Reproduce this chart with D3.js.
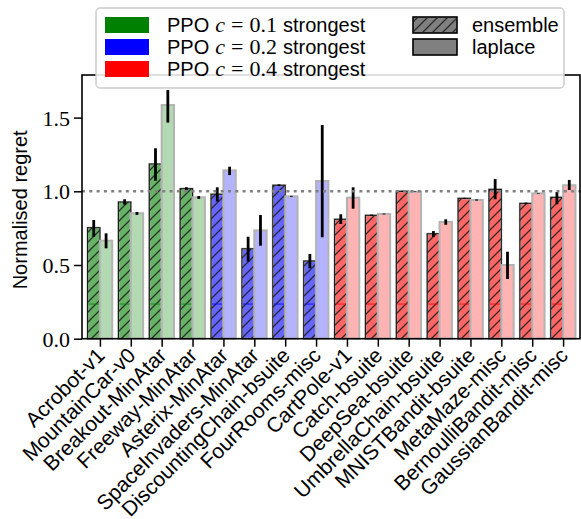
<!DOCTYPE html>
<html>
<head>
<meta charset="utf-8">
<script src="https://cdn.jsdelivr.net/npm/d3@7"></script>
<style>
  body { margin: 0; background: #fff; }
  text { fill: #000; }
  .sans { font-family: "Liberation Sans", Arial, sans-serif; }
  .serif { font-family: "Liberation Serif", "Times New Roman", serif; }
</style>
</head>
<body>
<script>
// environments, in plot order
var envs = ["Acrobot-v1", "MountainCar-v0", "Breakout-MinAtar", "Freeway-MinAtar",
    "Asterix-MinAtar", "SpaceInvaders-MinAtar", "DiscountingChain-bsuite", "FourRooms-misc",
    "CartPole-v1", "Catch-bsuite", "DeepSea-bsuite", "UmbrellaChain-bsuite",
    "MNISTBandit-bsuite", "MetaMaze-misc", "BernoulliBandit-misc", "GaussianBandit-misc"];
// which PPO c is strongest for each env (0 -> 0.1, 1 -> 0.2, 2 -> 0.4)
var strongest = [0, 0, 0, 0, 1, 1, 1, 1, 2, 2, 2, 2, 2, 2, 2, 2];

var ensembleMean = [0.753, 0.927, 1.185, 1.018, 0.980, 0.610, 1.041, 0.527,
    0.810, 0.837, 1.000, 0.712, 0.952, 1.013, 0.918, 0.959];
var ensembleLo = [0.692, 0.909, 1.072, 1.008, 0.930, 0.523, 1.035, 0.478,
    0.778, 0.833, 0.997, 0.690, 0.948, 0.946, 0.913, 0.912];
var ensembleHi = [0.805, 0.946, 1.292, 1.028, 1.027, 0.692, 1.047, 0.575,
    0.844, 0.842, 1.003, 0.730, 0.956, 1.083, 0.923, 0.995];

var laplaceMean = [0.665, 0.851, 1.585, 0.959, 1.142, 0.735, 0.966, 1.070,
    0.957, 0.846, 0.997, 0.792, 0.941, 0.500, 0.986, 1.041];
var laplaceLo = [0.613, 0.840, 1.466, 0.948, 1.110, 0.631, 0.963, 0.688,
    0.882, 0.843, 0.995, 0.773, 0.937, 0.405, 0.984, 1.009];
var laplaceHi = [0.715, 0.860, 1.687, 0.968, 1.167, 0.839, 0.969, 1.450,
    1.027, 0.849, 0.999, 0.810, 0.945, 0.590, 0.988, 1.077];

var legendLabels = ["0.1", "0.2", "0.4"];
var yTicks = [0.0, 0.5, 1.0, 1.5];

var baseColors = ["#008000", "#0000ff", "#ff0000"];
var darkColors = ["#66b366", "#6666ff", "#ff6666"];   // alpha 0.6 on white
var lightColors = ["#b3d9b3", "#b3b3ff", "#ffb3b3"];  // alpha 0.3 on white

var W = 581, H = 519;
var margin = { top: 75, right: 0, bottom: 180.3, left: 82 };
var x0 = margin.left, x1 = W - margin.right;
var y0 = margin.top, y1 = H - margin.bottom;

var svg = d3.select("body")
    .append("svg")
    .attr("width", W)
    .attr("height", H);

var defs = svg.append("defs");
var hatch = defs.append("pattern")
    .attr("id", "hatch")
    .attr("patternUnits", "userSpaceOnUse")
    .attr("width", 10)
    .attr("height", 10);
hatch.append("path")
    .attr("d", "M-2.5,2.5 l5,-5 M0,10 l10,-10 M7.5,12.5 l5,-5")
    .attr("stroke", "#1a1a1a")
    .attr("stroke-opacity", 0.85)
    .attr("stroke-width", 1.3);

var xscale = d3.scaleLinear()
    .domain([-0.58, 15.58])
    .range([x0, x1]);

var yscale = d3.scaleLinear()
    .domain([0, 1.789])
    .range([y1, y0]);

var bw = 0.4;

var group = svg.selectAll("g.env")
    .data(envs)
    .enter().append("g")
    .attr("class", "env");

// ensemble bars (hatched)
group.append("rect")
    .attr("x", function (d, i) { return xscale(i - bw); })
    .attr("y", function (d, i) { return yscale(ensembleMean[i]); })
    .attr("width", xscale(bw) - xscale(0))
    .attr("height", function (d, i) { return y1 - yscale(ensembleMean[i]); })
    .style("fill", function (d, i) { return darkColors[strongest[i]]; })
    .style("stroke", "#b0b0b0")
    .style("stroke-width", 2);

group.append("rect")
    .attr("x", function (d, i) { return xscale(i - bw); })
    .attr("y", function (d, i) { return yscale(ensembleMean[i]); })
    .attr("width", xscale(bw) - xscale(0))
    .attr("height", function (d, i) { return y1 - yscale(ensembleMean[i]); })
    .style("fill", "url(#hatch)")
    .style("stroke", "#1a1a1a")
    .style("stroke-width", 1.1);

// thin line inside the hatched bars
group.append("line")
    .attr("x1", function (d, i) { return xscale(i - bw) + 1; })
    .attr("x2", function (d, i) { return xscale(i) - 1; })
    .attr("y1", yscale(0.235))
    .attr("y2", yscale(0.235))
    .style("stroke", function (d, i) { return baseColors[strongest[i]]; })
    .style("stroke-width", 0.8);

// laplace bars
group.append("rect")
    .attr("x", function (d, i) { return xscale(i); })
    .attr("y", function (d, i) { return yscale(laplaceMean[i]); })
    .attr("width", xscale(bw) - xscale(0))
    .attr("height", function (d, i) { return y1 - yscale(laplaceMean[i]); })
    .style("fill", function (d, i) { return lightColors[strongest[i]]; })
    .style("stroke", "#b3b3b3")
    .style("stroke-width", 2);

// error bars
group.append("line")
    .attr("x1", function (d, i) { return xscale(i - bw / 2); })
    .attr("x2", function (d, i) { return xscale(i - bw / 2); })
    .attr("y1", function (d, i) { return yscale(ensembleLo[i]); })
    .attr("y2", function (d, i) { return yscale(ensembleHi[i]); })
    .style("stroke", "#000")
    .style("stroke-width", 2.8);

group.append("line")
    .attr("x1", function (d, i) { return xscale(i + bw / 2); })
    .attr("x2", function (d, i) { return xscale(i + bw / 2); })
    .attr("y1", function (d, i) { return yscale(laplaceLo[i]); })
    .attr("y2", function (d, i) { return yscale(laplaceHi[i]); })
    .style("stroke", "#000")
    .style("stroke-width", 2.8);

// reference line at 1
svg.append("line")
    .attr("x1", x0)
    .attr("x2", x1)
    .attr("y1", yscale(1))
    .attr("y2", yscale(1))
    .style("stroke", "#808080")
    .style("stroke-width", 2.6)
    .style("stroke-dasharray", "3,4.3");

// axes
var xAxis = d3.axisBottom(xscale)
    .tickValues(d3.range(envs.length))
    .tickSize(8)
    .tickFormat("");

var yAxis = d3.axisLeft(yscale)
    .tickValues(yTicks)
    .tickSize(8)
    .tickPadding(4)
    .tickFormat(d3.format(".1f"));

var gx = svg.append("g")
    .attr("transform", "translate(0," + y1 + ")")
    .call(xAxis);
var gy = svg.append("g")
    .attr("transform", "translate(" + x0 + ",0)")
    .call(yAxis);

[gx, gy].forEach(function (g) {
    g.select(".domain").remove();
    g.selectAll(".tick line").style("stroke", "#000").style("stroke-width", 1.5);
});
gy.selectAll(".tick text")
    .attr("class", "serif")
    .style("font-size", "22px")
    .attr("dy", "0.34em");

svg.append("rect")
    .attr("x", x0)
    .attr("y", y0)
    .attr("width", x1 - x0 - 1)
    .attr("height", y1 - y0)
    .style("fill", "none")
    .style("stroke", "#000")
    .style("stroke-width", 1.6);

// rotated env labels
svg.selectAll("text.xlab")
    .data(envs)
    .enter().append("text")
    .attr("class", "xlab sans")
    .attr("text-anchor", "end")
    .attr("transform", function (d, i) {
        return "translate(" + (xscale(i) + 6) + "," + (y1 + 18) + ") rotate(-45)";
    })
    .style("font-size", "21px")
    .text(function (d) { return d; });

svg.append("text")
    .attr("class", "sans")
    .attr("text-anchor", "middle")
    .attr("transform", "translate(27," + ((y0 + y1) / 2 + 3) + ") rotate(-90)")
    .style("font-size", "20px")
    .text("Normalised regret");

// legend
var lg = svg.append("g");
lg.append("rect")
    .attr("x", 96)
    .attr("y", 8)
    .attr("width", 468)
    .attr("height", 80)
    .attr("rx", 4)
    .style("fill", "#fff")
    .style("fill-opacity", 0.85)
    .style("stroke", "#cccccc")
    .style("stroke-width", 1.5);

var rowY = [25, 47, 69];

var entry = lg.selectAll("g.legend")
    .data(legendLabels)
    .enter().append("g")
    .attr("class", "legend")
    .attr("transform", function (d, i) { return "translate(0," + rowY[i] + ")"; });

entry.append("rect")
    .attr("x", 105)
    .attr("y", -8)
    .attr("width", 44)
    .attr("height", 16)
    .style("fill", function (d, i) { return baseColors[i]; });

// label pieces laid out one after the other: sans text, math in serif
entry.each(function (d) {
    var g = d3.select(this);
    var pieces = [
        { t: "PPO", cls: "sans", size: 20, italic: false, gap: 6 },
        { t: "c", cls: "serif", size: 22, italic: true, gap: 6 },
        { t: "=", cls: "serif", size: 22, italic: false, gap: 6 },
        { t: d, cls: "serif", size: 22, italic: false, gap: 6 },
        { t: "strongest", cls: "sans", size: 20, italic: false, gap: 0 }
    ];
    var xpos = 167;
    pieces.forEach(function (p) {
        var t = g.append("text")
            .attr("class", p.cls)
            .attr("x", xpos)
            .attr("y", 7)
            .style("font-size", p.size + "px")
            .style("font-style", p.italic ? "italic" : "normal")
            .text(p.t);
        xpos += t.node().getComputedTextLength() + p.gap;
    });
});

var kinds = ["ensemble", "laplace"];
var kind = lg.selectAll("g.kind")
    .data(kinds)
    .enter().append("g")
    .attr("class", "kind")
    .attr("transform", function (d, i) { return "translate(0," + rowY[i] + ")"; });

kind.append("rect")
    .attr("x", 413)
    .attr("y", -8)
    .attr("width", 44)
    .attr("height", 16)
    .style("fill", "#808080")
    .style("stroke", "#000")
    .style("stroke-width", 1.6);

kind.filter(function (d) { return d == "ensemble"; })
    .append("rect")
    .attr("x", 413)
    .attr("y", -8)
    .attr("width", 44)
    .attr("height", 16)
    .style("fill", "url(#hatch)");

kind.append("text")
    .attr("class", "sans")
    .attr("x", 472)
    .attr("y", 7)
    .style("font-size", "20px")
    .text(function (d) { return d; });
</script>
</body>
</html>
